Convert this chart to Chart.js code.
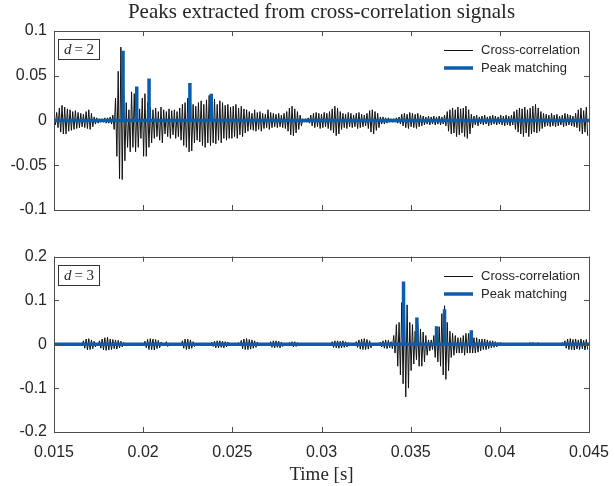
<!DOCTYPE html>
<html>
<head>
<meta charset="utf-8">
<script src="https://cdn.jsdelivr.net/npm/chart.js@4.4.1/dist/chart.umd.min.js"></script>
<style>
  body { margin: 0; background: #fff; }
  .wrap { position: absolute; left: 0; width: 615px; }
</style>
</head>
<body>
<div class="wrap" style="top:0;height:240px"><canvas id="d2" width="615" height="240"></canvas></div>
<div class="wrap" style="top:240px;height:246px"><canvas id="d3" width="615" height="246"></canvas></div>
<script>
// time axis
const xMin = 0.015, xMax = 0.045;
const xTicks = [0.015, 0.02, 0.025, 0.03, 0.035, 0.04, 0.045];
const xTickLabels = ['0.015', '0.02', '0.025', '0.03', '0.035', '0.04', '0.045'];
const d2YTicks = [-0.1, -0.05, 0, 0.05, 0.1];
const d2YTickLabels = ['-0.1', '-0.05', '0', '0.05', '0.1'];
const d3YTicks = [-0.2, -0.1, 0, 0.1, 0.2];
const d3YTickLabels = ['-0.2', '-0.1', '0', '0.1', '0.2'];

// cross-correlation sampled per oscillation cycle (start 0.015 s, 0.15 ms per cycle)
const cycleStart = 0.015;
const cycleLen = 0.00015;

// d = 2 : positive and negative excursion of each cycle
const d2Pos = [
  0.006, 0.009, 0.014, 0.017, 0.015, 0.013, 0.012, 0.010, 0.011, 0.009,
  0.008, 0.007, 0.010, 0.012, 0.008, 0.004, 0.003, 0.002, 0.002, 0.003,
  0.003, 0.004, 0.006, 0.025, 0.055, 0.082, 0.045, 0.020, 0.012, 0.032,
  0.030, 0.020, 0.013, 0.025, 0.030, 0.020, 0.015, 0.012, 0.014, 0.010,
  0.015, 0.012, 0.010, 0.013, 0.011, 0.012, 0.010, 0.014, 0.018, 0.020,
  0.025, 0.024, 0.018, 0.016, 0.020, 0.022, 0.018, 0.023, 0.028, 0.020,
  0.024, 0.018, 0.022, 0.020, 0.017, 0.018, 0.015, 0.016, 0.018, 0.014,
  0.016, 0.013, 0.012, 0.010, 0.008, 0.012, 0.009, 0.010, 0.008, 0.007,
  0.012, 0.009, 0.008, 0.007, 0.008, 0.006, 0.008, 0.010, 0.014, 0.016,
  0.013, 0.010, 0.006, 0.002, 0.002, 0.003, 0.006, 0.008, 0.009, 0.008,
  0.007, 0.009, 0.008, 0.010, 0.013, 0.016, 0.014, 0.010, 0.008, 0.007,
  0.009, 0.008, 0.006, 0.008, 0.009, 0.007, 0.006, 0.008, 0.011, 0.012,
  0.010, 0.008, 0.004, 0.004, 0.003, 0.003, 0.002, 0.002, 0.003, 0.004,
  0.007, 0.008, 0.007, 0.009, 0.008, 0.007, 0.008, 0.006, 0.005, 0.004,
  0.005, 0.004, 0.005, 0.004, 0.005, 0.004, 0.006, 0.010, 0.012, 0.014,
  0.012, 0.015, 0.013, 0.014, 0.016, 0.012, 0.007, 0.005, 0.006, 0.004,
  0.005, 0.006, 0.004, 0.005, 0.006, 0.005, 0.004, 0.006, 0.005, 0.006,
  0.005, 0.006, 0.010, 0.012, 0.014, 0.013, 0.015, 0.012, 0.014, 0.016,
  0.018, 0.014, 0.010, 0.008, 0.007, 0.006, 0.008, 0.006, 0.007, 0.005,
  0.006, 0.008, 0.007, 0.006, 0.005, 0.008, 0.012, 0.014, 0.011, 0.015
];
const d2Neg = [
  -0.005, -0.008, -0.013, -0.015, -0.015, -0.012, -0.011, -0.010, -0.009, -0.008,
  -0.007, -0.008, -0.009, -0.010, -0.007, -0.004, -0.003, -0.002, -0.002, -0.003,
  -0.003, -0.004, -0.010, -0.040, -0.065, -0.066, -0.045, -0.030, -0.035, -0.030,
  -0.035, -0.030, -0.020, -0.040, -0.040, -0.030, -0.025, -0.020, -0.018, -0.022,
  -0.025, -0.015, -0.018, -0.020, -0.016, -0.020, -0.018, -0.022, -0.028, -0.030,
  -0.035, -0.034, -0.025, -0.022, -0.024, -0.028, -0.030, -0.025, -0.028, -0.025,
  -0.026, -0.022, -0.025, -0.020, -0.022, -0.020, -0.020, -0.018, -0.020, -0.016,
  -0.018, -0.014, -0.012, -0.010, -0.011, -0.012, -0.010, -0.012, -0.009, -0.008,
  -0.010, -0.008, -0.007, -0.008, -0.007, -0.008, -0.009, -0.012, -0.016, -0.017,
  -0.014, -0.010, -0.006, -0.002, -0.002, -0.003, -0.006, -0.008, -0.007, -0.009,
  -0.008, -0.007, -0.009, -0.011, -0.014, -0.017, -0.015, -0.010, -0.008, -0.009,
  -0.007, -0.008, -0.007, -0.009, -0.008, -0.007, -0.006, -0.009, -0.013, -0.015,
  -0.011, -0.008, -0.004, -0.004, -0.003, -0.002, -0.002, -0.002, -0.003, -0.004,
  -0.006, -0.008, -0.009, -0.007, -0.008, -0.009, -0.007, -0.006, -0.005, -0.004,
  -0.005, -0.004, -0.005, -0.004, -0.005, -0.004, -0.006, -0.012, -0.015, -0.014,
  -0.018, -0.016, -0.014, -0.018, -0.020, -0.015, -0.008, -0.005, -0.006, -0.004,
  -0.005, -0.004, -0.006, -0.005, -0.004, -0.005, -0.004, -0.005, -0.006, -0.005,
  -0.006, -0.005, -0.010, -0.013, -0.015, -0.018, -0.014, -0.018, -0.015, -0.013,
  -0.014, -0.012, -0.009, -0.007, -0.006, -0.007, -0.006, -0.007, -0.006, -0.005,
  -0.007, -0.006, -0.005, -0.006, -0.007, -0.008, -0.012, -0.015, -0.013, -0.017
];

// d = 3
const d3Pos = [
  0.001, 0.001, 0.001, 0.001, 0.001, 0.001, 0.001, 0.001, 0.001, 0.002,
  0.003, 0.008, 0.012, 0.013, 0.010, 0.007, 0.003, 0.008, 0.012, 0.015,
  0.016, 0.012, 0.011, 0.010, 0.009, 0.007, 0.004, 0.001, 0.001, 0.001,
  0.001, 0.001, 0.001, 0.002, 0.007, 0.011, 0.013, 0.012, 0.011, 0.009,
  0.005, 0.003, 0.006, 0.002, 0.001, 0.001, 0.001, 0.002, 0.008, 0.012,
  0.012, 0.010, 0.006, 0.002, 0.001, 0.001, 0.001, 0.001, 0.002, 0.005,
  0.007, 0.008, 0.008, 0.007, 0.006, 0.005, 0.003, 0.003, 0.002, 0.004,
  0.009, 0.012, 0.013, 0.011, 0.010, 0.008, 0.005, 0.002, 0.002, 0.002,
  0.003, 0.006, 0.008, 0.008, 0.007, 0.005, 0.002, 0.002, 0.004, 0.006,
  0.006, 0.004, 0.002, 0.001, 0.001, 0.002, 0.001, 0.001, 0.001, 0.002,
  0.001, 0.001, 0.002, 0.003, 0.006, 0.008, 0.008, 0.007, 0.008, 0.006,
  0.004, 0.002, 0.002, 0.006, 0.010, 0.012, 0.013, 0.011, 0.008, 0.003,
  0.002, 0.003, 0.005, 0.008, 0.010, 0.009, 0.006, 0.020, 0.045, 0.050,
  0.095, 0.100, 0.090, 0.050, 0.045, 0.030, 0.045, 0.035, 0.028, 0.020,
  0.010, 0.010, 0.020, 0.030, 0.040, 0.070, 0.088, 0.050, 0.030, 0.025,
  0.020, 0.015, 0.015, 0.020, 0.025, 0.025, 0.020, 0.015, 0.015, 0.012,
  0.012, 0.012, 0.010, 0.008, 0.008, 0.006, 0.004, 0.004, 0.003, 0.002,
  0.001, 0.001, 0.001, 0.001, 0.002, 0.002, 0.001, 0.003, 0.004, 0.004,
  0.003, 0.004, 0.002, 0.001, 0.001, 0.001, 0.002, 0.001, 0.001, 0.002,
  0.004, 0.008, 0.012, 0.013, 0.011, 0.012, 0.010, 0.012, 0.009, 0.011
];
const d3Neg = [
  -0.001, -0.001, -0.001, -0.001, -0.001, -0.001, -0.001, -0.001, -0.001, -0.002,
  -0.003, -0.009, -0.013, -0.012, -0.010, -0.006, -0.003, -0.009, -0.013, -0.014,
  -0.013, -0.012, -0.010, -0.011, -0.008, -0.006, -0.003, -0.001, -0.001, -0.001,
  -0.001, -0.001, -0.001, -0.002, -0.008, -0.012, -0.012, -0.013, -0.010, -0.008,
  -0.004, -0.003, -0.005, -0.002, -0.001, -0.001, -0.001, -0.002, -0.009, -0.012,
  -0.011, -0.009, -0.005, -0.002, -0.001, -0.001, -0.001, -0.001, -0.002, -0.005,
  -0.008, -0.008, -0.007, -0.008, -0.006, -0.004, -0.003, -0.002, -0.002, -0.004,
  -0.010, -0.012, -0.012, -0.011, -0.009, -0.007, -0.004, -0.002, -0.002, -0.002,
  -0.003, -0.007, -0.008, -0.007, -0.008, -0.005, -0.002, -0.002, -0.004, -0.006,
  -0.005, -0.004, -0.002, -0.001, -0.001, -0.002, -0.001, -0.001, -0.001, -0.002,
  -0.001, -0.001, -0.002, -0.003, -0.007, -0.008, -0.009, -0.008, -0.007, -0.006,
  -0.004, -0.002, -0.002, -0.007, -0.011, -0.012, -0.012, -0.011, -0.008, -0.003,
  -0.002, -0.003, -0.006, -0.009, -0.010, -0.008, -0.010, -0.020, -0.050, -0.070,
  -0.090, -0.120, -0.100, -0.060, -0.045, -0.035, -0.050, -0.050, -0.040, -0.025,
  -0.015, -0.012, -0.030, -0.040, -0.050, -0.070, -0.080, -0.060, -0.030, -0.025,
  -0.020, -0.020, -0.020, -0.025, -0.020, -0.020, -0.020, -0.020, -0.018, -0.015,
  -0.012, -0.012, -0.010, -0.008, -0.007, -0.006, -0.004, -0.003, -0.003, -0.002,
  -0.001, -0.001, -0.001, -0.001, -0.002, -0.002, -0.001, -0.003, -0.004, -0.003,
  -0.004, -0.003, -0.002, -0.001, -0.001, -0.001, -0.002, -0.001, -0.001, -0.002,
  -0.004, -0.009, -0.012, -0.012, -0.013, -0.011, -0.012, -0.010, -0.013, -0.012
];

// matched peaks
const d2PeakTimes = [0.01887, 0.01964, 0.02033, 0.02262, 0.02382];
const d2PeakVals = [0.078, 0.038, 0.047, 0.042, 0.030];
const d3PeakTimes = [0.0346, 0.03535, 0.03645, 0.0369, 0.0384];
const d3PeakVals = [0.143, 0.061, 0.041, 0.080, 0.032];

const BLACK = '#111111';
const BLUE = '#0b5cad';
const AXIS = '#262626';
const FRAME = '#4d4d4d';
const SANS = '"Liberation Sans", Arial, sans-serif';
const SERIF = '"Liberation Serif", "Times New Roman", serif';

function signalPoints(pos, neg) {
  const pts = [];
  for (let i = 0; i < pos.length; i++) {
    const t = cycleStart + i * cycleLen;
    pts.push({x: t, y: pos[i]});
    pts.push({x: t + cycleLen / 2, y: neg[i]});
  }
  return pts;
}

function stemPoints(times, vals) {
  const pts = [{x: xMin, y: 0}];
  times.forEach(function(t, i) {
    pts.push({x: t, y: 0}, {x: t, y: vals[i]}, {x: t, y: 0});
  });
  pts.push({x: xMax, y: 0});
  return pts;
}

// frame, inward ticks, legend and the d = n box, drawn like the matlab axes
function framePlugin(dLabel) {
  return {
    id: 'frame',
    afterDraw(chart) {
      const ctx = chart.ctx;
      const a = chart.chartArea;
      const xs = chart.scales.x, ys = chart.scales.y;
      ctx.save();
      ctx.strokeStyle = FRAME;
      ctx.lineWidth = 1;
      ctx.strokeRect(Math.round(a.left) + 0.5, Math.round(a.top) + 0.5,
        Math.round(a.right - a.left), Math.round(a.bottom - a.top));
      ctx.beginPath();
      xs.ticks.forEach(function(tk) {
        const px = Math.round(xs.getPixelForValue(tk.value)) + 0.5;
        ctx.moveTo(px, a.bottom); ctx.lineTo(px, a.bottom - 5);
        ctx.moveTo(px, a.top); ctx.lineTo(px, a.top + 5);
      });
      ys.ticks.forEach(function(tk) {
        const py = Math.round(ys.getPixelForValue(tk.value)) + 0.5;
        ctx.moveTo(a.left, py); ctx.lineTo(a.left + 5, py);
        ctx.moveTo(a.right, py); ctx.lineTo(a.right - 5, py);
      });
      ctx.stroke();

      // legend
      const ds = chart.data.datasets;
      const lx = Math.round(a.right) - 145, ly = Math.round(a.top) + 19;
      ctx.font = '13px ' + SANS;
      ctx.textBaseline = 'middle';
      ctx.fillStyle = AXIS;
      ds.forEach(function(d, i) {
        const y = ly + i * 18 + (d.borderWidth < 2 ? 0.5 : 0);
        ctx.strokeStyle = d.borderColor;
        ctx.lineWidth = d.borderWidth;
        ctx.beginPath();
        ctx.moveTo(lx, y); ctx.lineTo(lx + 29, y);
        ctx.stroke();
        ctx.fillText(d.label, lx + 37, ly + i * 18);
      });

      // d = n box
      const bx = Math.round(a.left) + 4.5, by = Math.round(a.top) + 8.5;
      ctx.fillStyle = '#fff';
      ctx.fillRect(bx, by, 41, 20);
      ctx.strokeStyle = '#333';
      ctx.lineWidth = 1;
      ctx.strokeRect(bx, by, 41, 20);
      ctx.fillStyle = AXIS;
      ctx.font = 'italic 15px ' + SERIF;
      const w1 = ctx.measureText('d').width;
      ctx.font = '15px ' + SERIF;
      const rest = '\u2009= ' + dLabel;
      const w2 = ctx.measureText(rest).width;
      const tx = bx + 20.5 - (w1 + w2) / 2;
      ctx.font = 'italic 15px ' + SERIF;
      ctx.fillText('d', tx, by + 10.5);
      ctx.font = '15px ' + SERIF;
      ctx.fillText(rest, tx + w1, by + 10.5);
      ctx.restore();
    }
  };
}

function makeChart(id, cfg) {
  const yTicks = cfg.yTicks, yLabels = cfg.yLabels;
  return new Chart(document.getElementById(id), {
    type: 'line',
    data: {
      datasets: [{
        label: 'Cross-correlation',
        data: signalPoints(cfg.pos, cfg.neg),
        borderColor: BLACK,
        borderWidth: 1,
        pointRadius: 0,
        tension: 0,
        order: 1
      }, {
        label: 'Peak matching',
        data: stemPoints(cfg.peakTimes, cfg.peakVals),
        borderColor: BLUE,
        borderWidth: 3.5,
        borderJoinStyle: 'bevel',
        pointRadius: 0,
        tension: 0,
        order: 0
      }]
    },
    options: {
      responsive: false,
      animation: false,
      devicePixelRatio: 1,
      layout: { padding: cfg.padding },
      plugins: {
        legend: { display: false },
        tooltip: { enabled: false },
        title: cfg.title
      },
      scales: {
        x: {
          type: 'linear',
          min: xMin,
          max: xMax,
          grid: { display: false, drawTicks: false },
          border: { display: false },
          afterBuildTicks: function(scale) {
            scale.ticks = xTicks.map(function(v) { return {value: v}; });
          },
          afterFit: function(scale) {
            scale.height = cfg.xHeight;
            scale.paddingLeft = 0;
            scale.paddingRight = 0;
          },
          ticks: {
            display: cfg.showX,
            autoSkip: false,
            maxRotation: 0,
            padding: 11,
            color: AXIS,
            font: { family: SANS, size: 16 },
            callback: function(v) { return xTickLabels[xTicks.indexOf(v)]; }
          },
          title: cfg.xTitle
        },
        y: {
          min: yTicks[0],
          max: yTicks[yTicks.length - 1],
          grid: { display: false, drawTicks: false },
          border: { display: false },
          afterBuildTicks: function(scale) {
            scale.ticks = yTicks.map(function(v) { return {value: v}; });
          },
          afterFit: function(scale) { scale.width = 54; },
          ticks: {
            autoSkip: false,
            padding: 7,
            color: AXIS,
            font: { family: SANS, size: 16 },
            callback: function(v) { return yLabels[yTicks.indexOf(v)]; }
          }
        }
      }
    },
    plugins: [framePlugin(cfg.d)]
  });
}

makeChart('d2', {
  pos: d2Pos, neg: d2Neg, peakTimes: d2PeakTimes, peakVals: d2PeakVals,
  yTicks: d2YTicks, yLabels: d2YTickLabels, d: '2',
  padding: { top: 0, right: 26, bottom: 0, left: 0 },
  xHeight: 30, showX: false,
  xTitle: { display: false },
  title: {
    display: true,
    fullSize: false,
    text: 'Peaks extracted from cross-correlation signals',
    color: AXIS,
    font: { family: SERIF, size: 21, weight: 'normal' },
    padding: { top: 0, bottom: 5.8 }
  }
});

makeChart('d3', {
  pos: d3Pos, neg: d3Neg, peakTimes: d3PeakTimes, peakVals: d3PeakVals,
  yTicks: d3YTicks, yLabels: d3YTickLabels, d: '3',
  padding: { top: 15, right: 26, bottom: 0, left: 0 },
  xHeight: 54, showX: true,
  xTitle: {
    display: true,
    text: 'Time [s]',
    color: AXIS,
    font: { family: SERIF, size: 19, weight: 'normal' },
    padding: { top: 0, bottom: 0 }
  },
  title: { display: false }
});
</script>
</body>
</html>
